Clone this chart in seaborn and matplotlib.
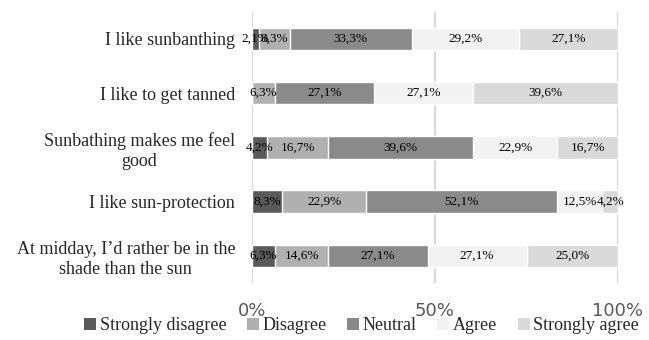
import numpy as np
import pandas as pd
import seaborn as sns
import matplotlib.pyplot as plt
from matplotlib.patches import Patch

statements = ["I like sunbanthing",
              "I like to get tanned",
              "Sunbathing makes me feel\ngood",
              "I like sun-protection",
              "At midday, I\u2019d rather be in the\nshade than the sun"]
levels = ["Strongly disagree", "Disagree", "Neutral", "Agree", "Strongly agree"]

strongly_disagree = [2.1, 0.0, 4.2, 8.3, 6.3]
disagree = [8.3, 6.3, 16.7, 22.9, 14.6]
neutral = [33.3, 27.1, 39.6, 52.1, 27.1]
agree = [29.2, 27.1, 22.9, 12.5, 27.1]
strongly_agree = [27.1, 39.6, 16.7, 4.2, 25.0]

colors = ["#5a5a5a", "#b0b0b0", "#8a8a8a", "#f2f2f2", "#d9d9d9"]

sns.set_style("white")
plt.rcParams["font.family"] = ["Liberation Serif", "DejaVu Serif"]

values = np.array([strongly_disagree, disagree, neutral, agree, strongly_agree])
cum = values.cumsum(axis=0)

fig = plt.figure(figsize=(6.49, 3.4), dpi=100)
ax = fig.add_axes([0.388, 0.168, 0.564, 0.797])

# stacked bars: draw cumulative totals from the longest to the shortest
for i in reversed(range(len(levels))):
    df = pd.DataFrame({"statement": statements, "total": cum[i]})
    sns.barplot(data=df, x="total", y="statement", color=colors[i],
                width=0.41, saturation=1, ax=ax, zorder=2)

for i in range(len(levels)):
    for j in range(len(statements)):
        v = values[i, j]
        if v <= 0:
            continue
        centre = cum[i, j] - v / 2
        ax.text(centre, j, f"{v:.1f}%".replace(".", ","), ha="center",
                va="center", fontsize=9.5, color="black", zorder=3)

ax.set_xlim(0, 100)
ax.set_xticks([0, 50, 100])
ax.set_xticklabels(["0%", "50%", "100%"], family="DejaVu Sans",
                   fontsize=13, color="#595959")
ax.tick_params(axis="x", length=0, pad=14)
ax.tick_params(axis="y", length=0, pad=12, labelsize=13)
for t in ax.get_yticklabels():
    t.set_multialignment("center")
    t.set_linespacing(1.25)
ax.set_xlabel("")
ax.set_ylabel("")
ax.grid(axis="x", color="#d9d9d9", linewidth=1.6, zorder=0)
ax.set_axisbelow(True)
sns.despine(ax=ax, left=True, bottom=True)

handles = [Patch(facecolor=c, edgecolor="none", label=l) for c, l in zip(colors, levels)]
fig.legend(handles=handles, loc="center left", bbox_to_anchor=(0.13, 0.043),
           ncol=5, frameon=False, fontsize=13, handlelength=0.65,
           handleheight=0.65, handletextpad=0.2, columnspacing=1.15,
           borderaxespad=0, borderpad=0)

fig.savefig("out.png", dpi=100)
